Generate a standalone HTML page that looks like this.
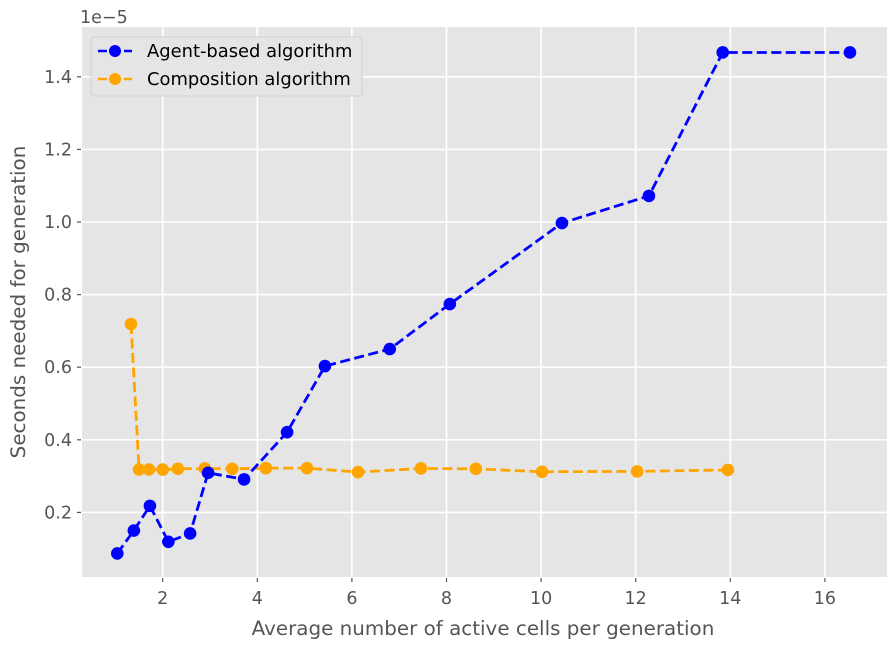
<!DOCTYPE html>
<html><head><meta charset="utf-8"><style>
body{margin:0;background:#fff;}
svg{font-family:"DejaVu Sans","Liberation Sans",sans-serif;}
</style></head><body>
<svg id="chart" width="896" height="648" viewBox="0 0 896 648" xmlns="http://www.w3.org/2000/svg">
<rect x="82" y="27" width="805" height="550" fill="#e5e5e5"/>
<g id="grid"></g>
<g id="axes"></g>
<g id="series"></g>
<text x="80" y="23" font-size="17.5" fill="#555">1e−5</text>
<text x="483" y="635" font-size="19.9" fill="#555" text-anchor="middle">Average number of active cells per generation</text>
<text transform="translate(25,302) rotate(-90)" font-size="19.9" fill="#555" text-anchor="middle">Seconds needed for generation</text>
<g>
<rect x="91" y="37" width="271" height="59" rx="3" fill="#e5e5e5" stroke="#d0d0d0" stroke-width="1" opacity="0.9"/>
<g>
<line x1="98" y1="51" x2="132" y2="51" stroke="#0000ff" stroke-width="2.5" stroke-dasharray="9,4"/>
<circle cx="115" cy="51" r="6" fill="#0000ff"/>
<text x="147" y="57" font-size="17.9" fill="#000">Agent-based algorithm</text>
</g>
<g>
<line x1="98" y1="79" x2="132" y2="79" stroke="#ffa500" stroke-width="2.5" stroke-dasharray="9,4"/>
<circle cx="115" cy="79" r="6" fill="#ffa500"/>
<text x="147" y="85" font-size="17.9" fill="#000">Composition algorithm</text>
</g>
</g>
</svg>
<script>
const agentX=[1.04,1.39,1.73,2.12,2.58,2.96,3.72,4.63,5.43,6.8,8.07,10.44,12.28,13.84,16.53];
const agentY=[0.087,0.15,0.218,0.119,0.142,0.309,0.291,0.421,0.603,0.65,0.774,0.997,1.072,1.467,1.467];
const compX=[1.33,1.5,1.71,2.0,2.32,2.89,3.47,4.18,5.05,6.13,7.46,8.62,10.02,12.03,13.95];
const compY=[0.719,0.318,0.318,0.318,0.32,0.321,0.32,0.322,0.322,0.311,0.321,0.32,0.312,0.313,0.317];
const xTicks=[2,4,6,8,10,12,14,16];
const yTicks=[0.2,0.4,0.6,0.8,1.0,1.2,1.4];
const yTickLabels=["0.2","0.4","0.6","0.8","1.0","1.2","1.4"];
const NS="http://www.w3.org/2000/svg";
function sx(v){return 68.1+v*47.3;}
function sy(v){return 585-v*363;}
function mk(tag,attrs,parent){const e=document.createElementNS(NS,tag);for(const k in attrs)e.setAttribute(k,attrs[k]);parent.appendChild(e);return e;}
const grid=document.getElementById('grid'),axes=document.getElementById('axes'),ser=document.getElementById('series');
xTicks.forEach(t=>{
 const l=mk('line',{x1:sx(t),x2:sx(t),y1:27,y2:577,stroke:'#fff','stroke-width':1.6},grid);
 
 mk('line',{x1:sx(t),x2:sx(t),y1:578,y2:582,stroke:'#555','stroke-width':1.2},axes);
 const tx=mk('text',{x:sx(t),y:604,'font-size':17.5,fill:'#555','text-anchor':'middle'},axes);tx.textContent=t;
 
});
yTicks.forEach((t,i)=>{
 const l=mk('line',{x1:82,x2:887,y1:sy(t),y2:sy(t),stroke:'#fff','stroke-width':1.6},grid);
 
 mk('line',{x1:77,x2:81,y1:sy(t),y2:sy(t),stroke:'#555','stroke-width':1.2},axes);
 const tx=mk('text',{x:72,y:sy(t)+6,'font-size':17.5,fill:'#555','text-anchor':'end'},axes);tx.textContent=yTickLabels[i];
 
});
function draw(xs,ys,color,name){
 const g=mk('g',{},ser);
 
 const p=mk('polyline',{points:xs.map((x,i)=>sx(x)+','+sy(ys[i])).join(' '),fill:'none',stroke:color,'stroke-width':2.8,'stroke-dasharray':'10,4.5'},g);
 
 xs.forEach((x,i)=>{const c=mk('circle',{cx:sx(x),cy:sy(ys[i]),r:6.3,fill:color},g);
  });
}
draw(compX,compY,'#ffa500','composition');
draw(agentX,agentY,'#0000ff','agent');
</script>
</body></html>
